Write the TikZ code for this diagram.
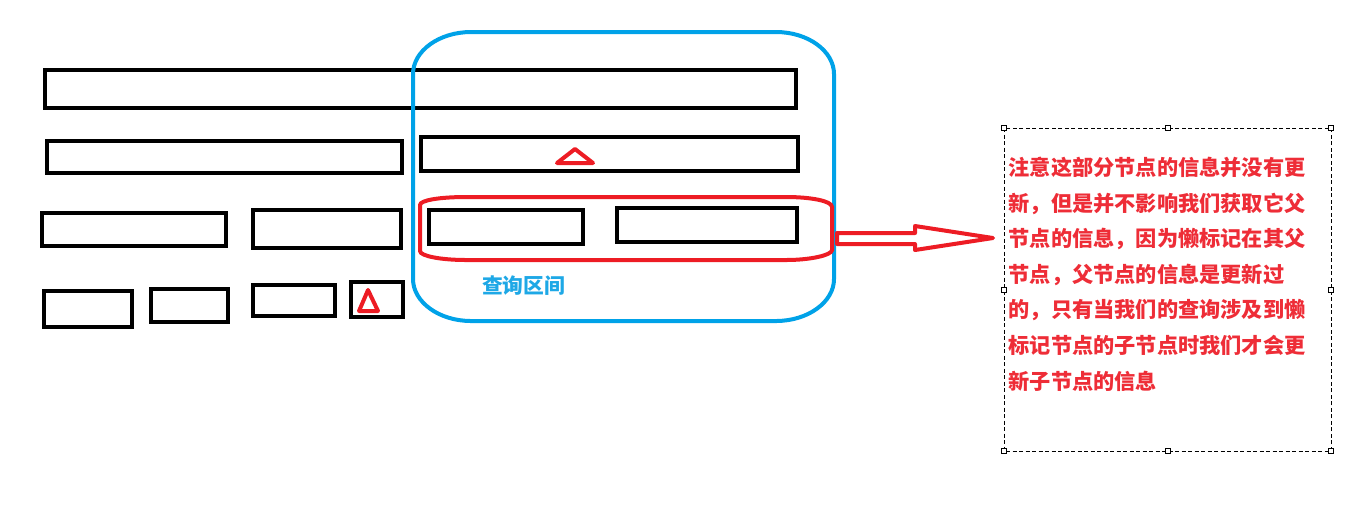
\documentclass[tikz,border=0pt]{standalone}
\usepackage{fontspec}
\usepackage{tikz}
\newfontfamily\cjk{Noto Sans CJK SC}
\definecolor{paintred}{RGB}{237,28,36}
\definecolor{paintblue}{RGB}{0,162,232}
\definecolor{notered}{RGB}{238,45,55}
\definecolor{labelblue}{RGB}{30,168,230}

\begin{document}
\begin{tikzpicture}[x=0.01cm,y=-0.01cm,
    cell/.style={draw=black,line width=0.045cm},
    tri/.style={draw=paintred,line width=0.04cm,line join=round}]

\useasboundingbox (0,0) rectangle (1361,511);

% tree rows
\foreach \a/\b/\c/\d in {45/70/796/108, 47/141/402/173, 421/137/798/171,
    42/213/226/246, 253/210/401/248, 429/210/583/244, 617/208/797/242,
    44/291/132/327, 151/289/228/322, 253/285/335/316, 351/282/403/317}
    \draw [cell] (\a,\b) rectangle (\c,\d);

% lazy tags
\draw [tri] (575,149) -- (593,163) -- (557,163) -- cycle;
\draw [tri] (368,290) -- (378,311) -- (359,311) -- cycle;

% query range
\draw [paintblue, line width=0.04cm]
    (413,74) .. controls (413,51) and (439,32) .. (471,32) -- (776,32)
    .. controls (808,32) and (834,51) .. (834,74) -- (834,279)
    .. controls (834,302) and (808,321) .. (776,321) -- (471,321)
    .. controls (439,321) and (413,302) .. (413,279) -- cycle;
\node [text=labelblue, font=\cjk\bfseries\fontsize{5.9}{7}\selectfont] (qlabel) at (523.5,286) {查询区间};

\draw [paintred, line width=0.04cm]
    (420,205) .. controls (420,200) and (441,197) .. (466,197) -- (786,197)
    .. controls (811,197) and (832,201) .. (832,207) -- (832,250)
    .. controls (832,255) and (811,260) .. (786,260) -- (466,260)
    .. controls (441,260) and (420,256) .. (420,251) -- cycle;

% arrow
\coordinate (tip) at (993,238);
\draw [paintred, line width=0.04cm, line join=round]
    (837,233) -- (915,233) -- (915,226) -- (tip) -- (915,250) -- (915,244) -- (837,244) -- cycle;

% note box
\coordinate (nw) at (1004,128);
\coordinate (se) at (1331,451);
\draw [line width=0.01cm, dash pattern=on 0.04cm off 0.025cm] (nw) rectangle (se);

\foreach \x/\y in {1004/128, 1167.5/128, 1331/128, 1004/289.5, 1331/289.5,
    1004/451, 1167.5/451, 1331/451}
    \draw [fill=white, line width=0.01cm] (\x-2.5,\y-2.5) rectangle (\x+2.5,\y+2.5);

\foreach \i/\txt in {0/注意这部分节点的信息并没有更,
    1/新，但是并不影响我们获取它父,
    2/节点的信息，因为懒标记在其父,
    3/节点，父节点的信息是更新过,
    4/的，只有当我们的查询涉及到懒,
    5/标记节点的子节点时我们才会更,
    6/新子节点的信息}
    \node [anchor=base west, inner sep=0pt, text=notered,
        font=\cjk\bfseries\fontsize{6.03}{8}\selectfont] (line\i) at (1008,175.5+35.6*\i) {\txt};

\end{tikzpicture}
\end{document}
